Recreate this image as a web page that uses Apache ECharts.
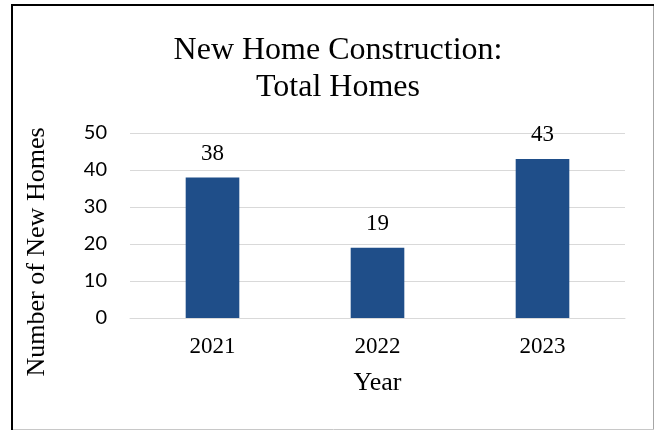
<!DOCTYPE html>
<html>
<head>
<meta charset="utf-8">
<script src="https://cdn.jsdelivr.net/npm/echarts@6/dist/echarts.min.js"></script>
<style>
  html, body { margin: 0; padding: 0; background: #fff; }
  #chart { width: 654px; height: 430px; }
</style>
</head>
<body>
<div id="chart"></div>
<script>
// New home construction totals per year
const years = ['2021', '2022', '2023'];
const totalHomes = [38, 19, 43];
const yTicks = { min: 0, max: 50, interval: 10 };

const serif = '"Liberation Serif", "Times New Roman", serif';
const chart = echarts.init(document.getElementById('chart'), null, { renderer: 'canvas' });

chart.setOption({
  backgroundColor: '#ffffff',
  animation: false,
  title: {
    text: 'New Home Construction:\nTotal Homes',
    left: 333,
    top: 27,
    textAlign: 'center',
    textStyle: { fontFamily: serif, fontSize: 32, fontWeight: 'normal', color: '#000', lineHeight: 37 }
  },
  grid: { left: 130, right: 29, top: 133, bottom: 112, containLabel: false },
  xAxis: {
    type: 'category',
    data: years,
    name: 'Year',
    nameLocation: 'middle',
    nameGap: 52,
    nameTextStyle: { fontFamily: serif, fontSize: 26, color: '#000' },
    axisLine: { lineStyle: { color: '#d9d9d9', width: 1 } },
    axisTick: { show: false },
    axisLabel: { fontFamily: serif, fontSize: 23, color: '#000', margin: 17 }
  },
  yAxis: {
    type: 'value',
    min: yTicks.min,
    max: yTicks.max,
    interval: yTicks.interval,
    axisLine: { show: false },
    axisTick: { show: false },
    splitLine: { lineStyle: { color: '#d9d9d9', width: 1 } },
    axisLabel: { fontFamily: 'Lato, "Liberation Sans", sans-serif', fontSize: 20, color: '#000', margin: 23 }
  },
  series: [{
    type: 'bar',
    data: totalHomes,
    barWidth: '32.5%',
    itemStyle: { color: '#1f4e89' },
    label: {
      show: true,
      position: 'top',
      distance: 12,
      fontFamily: serif,
      fontSize: 23,
      color: '#000'
    }
  }],
  graphic: [
    {
      type: 'text',
      x: 37,
      y: 252,
      rotation: Math.PI / 2,
      style: {
        text: 'Number of New Homes',
        font: '26px ' + serif,
        fill: '#000',
        textAlign: 'center',
        textVerticalAlign: 'middle'
      }
    },
    // frame around the chart
    { type: 'line', shape: { x1: 11, y1: 5, x2: 654, y2: 5 }, style: { stroke: '#000', lineWidth: 2 } },
    { type: 'line', shape: { x1: 12, y1: 4, x2: 12, y2: 430 }, style: { stroke: '#000', lineWidth: 2 } },
    { type: 'line', shape: { x1: 653.5, y1: 6, x2: 653.5, y2: 430 }, style: { stroke: '#a6a6a6', lineWidth: 1 } },
    { type: 'line', shape: { x1: 13, y1: 429.5, x2: 654, y2: 429.5 }, style: { stroke: '#c8c8c8', lineWidth: 1 } }
  ]
});
</script>
</body>
</html>
